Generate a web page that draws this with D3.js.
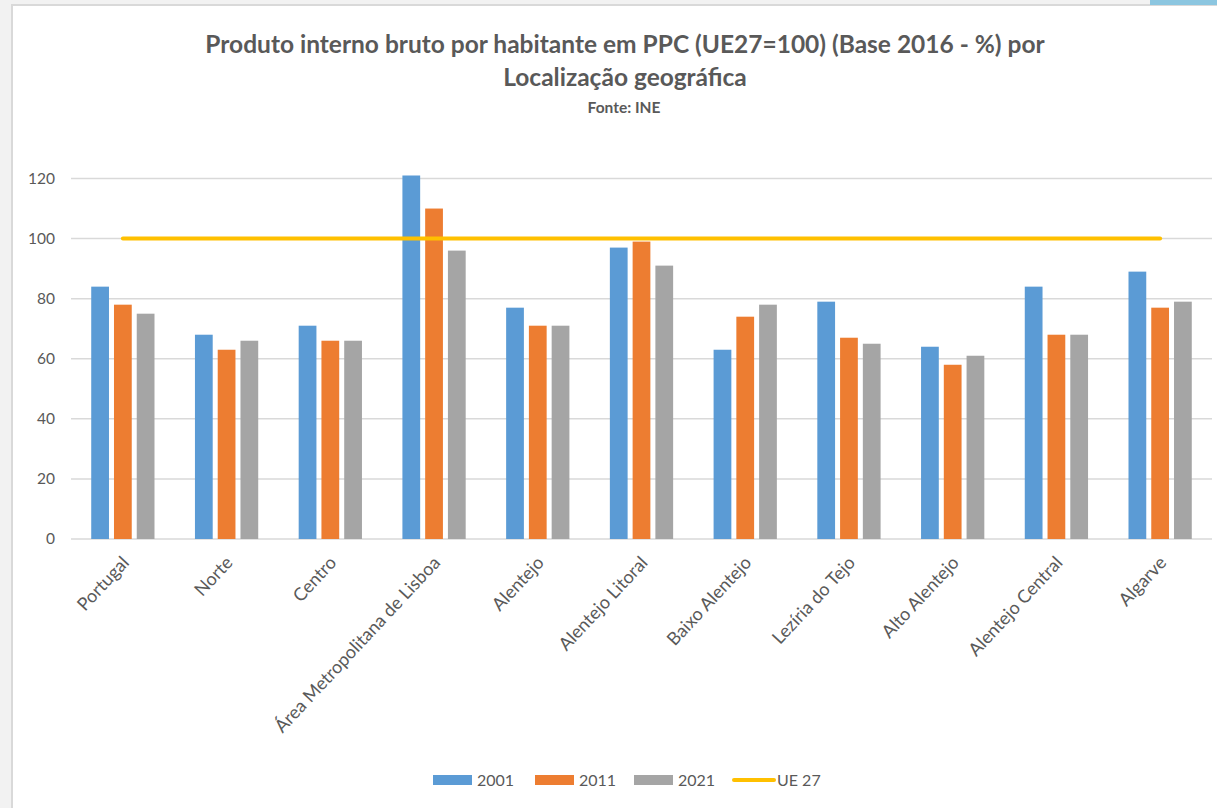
<!DOCTYPE html>
<html>
<head>
<meta charset="utf-8">
<script src="https://cdn.jsdelivr.net/npm/d3@7"></script>
<style>
  body { margin: 0; background: #f2f2f2; overflow: hidden; }
  text { font-family: Lato, "Open Sans", sans-serif; fill: #595959; }
</style>
</head>
<body>
<div id="chart"></div>
<script>
var regioes = ["Portugal", "Norte", "Centro", "Área Metropolitana de Lisboa", "Alentejo",
  "Alentejo Litoral", "Baixo Alentejo", "Lezíria do Tejo", "Alto Alentejo",
  "Alentejo Central", "Algarve"];
var anos = ["2001", "2011", "2021"];
var v2001 = [84, 68, 71, 121, 77, 97, 63, 79, 64, 84, 89];
var v2011 = [78, 63, 66, 110, 71, 99, 74, 67, 58, 68, 77];
var v2021 = [75, 66, 66, 96, 71, 91, 78, 65, 61, 68, 79];
var ue27 = [100, 100, 100, 100, 100, 100, 100, 100, 100, 100, 100];
var yTicks = [0, 20, 40, 60, 80, 100, 120];
var cores = ["#5b9bd5", "#ed7d31", "#a5a5a5"];
var corUE = "#ffc000";

var width = 1217, height = 808;

var svg = d3.select("#chart").append("svg")
  .attr("width", width)
  .attr("height", height);

// moldura
svg.append("rect").attr("x", 0).attr("y", 0).attr("width", width).attr("height", height).attr("fill", "#f2f2f2");
svg.append("rect").attr("x", 12).attr("y", 5).attr("width", width).attr("height", height)
  .attr("fill", "#ffffff").attr("stroke", "#d9d9d9").attr("stroke-width", 2);
svg.append("rect").attr("x", 1150).attr("y", 0).attr("width", 67).attr("height", 5).attr("fill", "#8cc6e0");

var series = [v2001, v2011, v2021];
var dados = regioes.map(function (r, i) {
  return { regiao: r, valores: series.map(function (s, j) { return { ano: anos[j], v: s[i], j: j }; }) };
});

var x0 = d3.scaleBand().domain(regioes).range([71, 1212]).paddingInner(0.39).paddingOuter(0.195);
var x1 = d3.scaleBand().domain(anos).range([0, x0.bandwidth()]).paddingInner(0.22);
var y = d3.scaleLinear().domain([0, 120]).range([539, 178.5]);

// grelha
svg.append("g").selectAll("line").data(yTicks).enter().append("line")
  .attr("x1", 71).attr("x2", 1212)
  .attr("y1", function (d) { return y(d); }).attr("y2", function (d) { return y(d); })
  .attr("stroke", "#d9d9d9").attr("stroke-width", 1.5);

// eixo y
var yAxis = svg.append("g").attr("transform", "translate(55,0)")
  .call(d3.axisLeft(y).tickValues(yTicks).tickSize(0).tickPadding(0));
yAxis.select(".domain").remove();
yAxis.selectAll("text").style("font-size", "15.5px").attr("fill", "#595959").style("font-family", "Lato, sans-serif");

// barras
var grupos = svg.append("g").selectAll("g").data(dados).enter().append("g")
  .attr("transform", function (d) { return "translate(" + x0(d.regiao) + ",0)"; });
grupos.selectAll("rect").data(function (d) { return d.valores; }).enter().append("rect")
  .attr("x", function (d) { return x1(d.ano); })
  .attr("width", x1.bandwidth())
  .attr("y", function (d) { return y(d.v); })
  .attr("height", function (d) { return y(0) - y(d.v); })
  .attr("fill", function (d) { return cores[d.j]; });

// linha UE 27
var linha = d3.line()
  .x(function (d, i) { return x0(regioes[i]) + x0.bandwidth() / 2; })
  .y(function (d) { return y(d); });
svg.append("path").datum(ue27).attr("d", linha)
  .attr("fill", "none").attr("stroke", corUE).attr("stroke-width", 4).attr("stroke-linecap", "round");

// rótulos x
svg.append("g").selectAll("text").data(regioes).enter().append("text")
  .attr("transform", function (d) {
    return "translate(" + (x0(d) + x0.bandwidth() / 2 - 2) + ",555) rotate(-47)";
  })
  .attr("text-anchor", "end")
  .attr("dy", "0.7em")
  .style("font-size", "18px")
  .text(function (d) { return d; });

// títulos
svg.append("text").attr("x", 625).attr("y", 53).attr("text-anchor", "middle")
  .style("font-size", "24.5px").style("font-weight", "bold")
  .text("Produto interno bruto por habitante  em PPC (UE27=100) (Base 2016 - %) por");
svg.append("text").attr("x", 625).attr("y", 86).attr("text-anchor", "middle")
  .style("font-size", "24.5px").style("font-weight", "bold")
  .text("Localização geográfica");
svg.append("text").attr("x", 624).attr("y", 113).attr("text-anchor", "middle")
  .style("font-size", "15.5px").style("font-weight", "bold")
  .text("Fonte: INE");

// legenda
var leg = [
  { nome: "2001", cor: cores[0], tipo: "rect", x: 433 },
  { nome: "2011", cor: cores[1], tipo: "rect", x: 535 },
  { nome: "2021", cor: cores[2], tipo: "rect", x: 634 },
  { nome: "UE 27", cor: corUE, tipo: "line", x: 733 }
];
var lg = svg.append("g").selectAll("g").data(leg).enter().append("g")
  .attr("transform", function (d) { return "translate(" + d.x + ",780)"; });
lg.filter(function (d) { return d.tipo === "rect"; }).append("rect")
  .attr("x", 0).attr("y", -5).attr("width", 39).attr("height", 10)
  .attr("fill", function (d) { return d.cor; });
lg.filter(function (d) { return d.tipo === "line"; }).append("line")
  .attr("x1", 1).attr("x2", 41).attr("y1", 0).attr("y2", 0)
  .attr("stroke", function (d) { return d.cor; }).attr("stroke-width", 4).attr("stroke-linecap", "round");
lg.append("text").attr("x", 44).attr("dy", "0.35em")
  .style("font-size", "16px")
  .text(function (d) { return d.nome; });
</script>
</body>
</html>
